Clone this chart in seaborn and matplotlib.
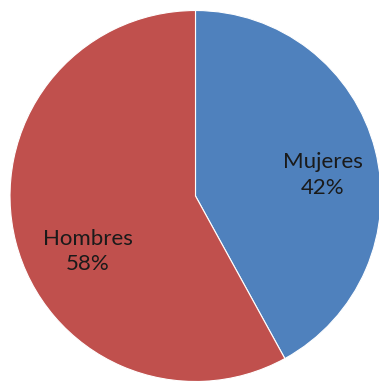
import matplotlib
matplotlib.use("Agg")
import matplotlib.pyplot as plt
import seaborn as sns

# Data
categories = ["Mujeres", "Hombres"]
shares = [42, 58]
colors = ["#4F81BD", "#C0504D"]

sns.set_style("white")
plt.rcParams["font.family"] = ["Lato", "DejaVu Sans"]

W, H = 379, 381
fig = plt.figure(figsize=(W / 100, H / 100), dpi=100)
fig.patch.set_facecolor("white")

# Pie box in pixels: centre (195.5, 196), radius 185.5
cx, cy, r = 195.5, 196.0, 185.5
ax = fig.add_axes([(cx - r) / W, (H - cy - r) / H, 2 * r / W, 2 * r / H])

palette = sns.color_palette(colors)
wedges, _ = ax.pie(
    shares,
    colors=palette,
    startangle=90,
    counterclock=False,
    radius=1.0,
    wedgeprops=dict(edgecolor="white", linewidth=0.8),
)
ax.set_xlim(-1, 1)
ax.set_ylim(-1, 1)
ax.set_aspect("auto")
ax.axis("off")

# Label placement inside each wedge
label_pos = {"Mujeres": (0.687, 0.113), "Hombres": (-0.58, -0.30)}
for name, val in zip(categories, shares):
    x, y = label_pos[name]
    ax.text(x, y, f"{name}\n{val}%", ha="center", va="center",
            fontsize=16, color="#1a1a1a", linespacing=1.35)

fig.savefig("out.png", dpi=100)
